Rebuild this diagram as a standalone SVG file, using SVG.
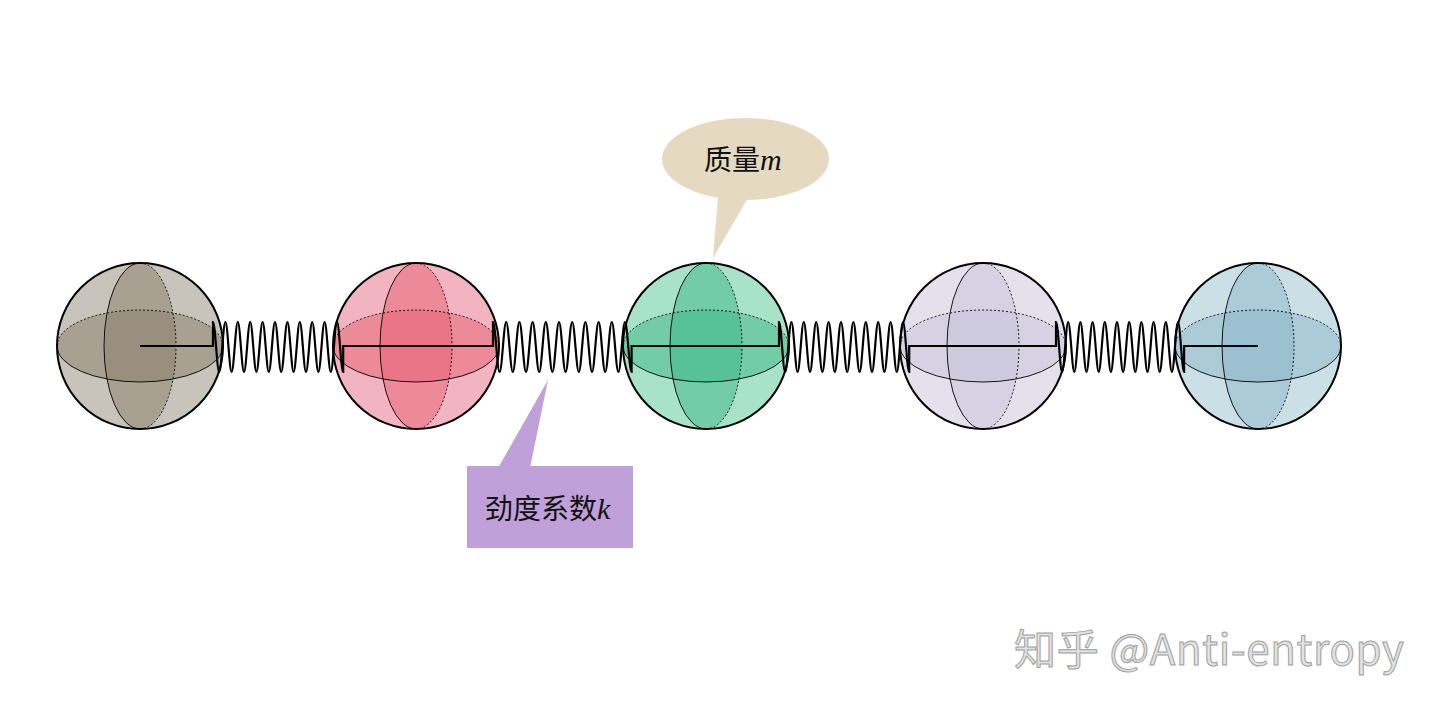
<svg xmlns="http://www.w3.org/2000/svg" width="1440" height="712" viewBox="0 0 1440 712">
<style>
.out{stroke:#000;stroke-width:2}
.sol{fill:none;stroke:#000;stroke-width:0.9}
.dot{fill:none;stroke:#000;stroke-width:0.9;stroke-dasharray:2 2}
.ov{stroke:none;fill-opacity:0.5}
.lbl{font-family:"Noto Sans CJK SC",sans-serif;font-size:28px;fill:#111}
.mi{font-family:"Liberation Serif",serif;font-style:italic;font-size:30px}
</style>
<defs>
<g id="sph">
<path class="sol" d="M0,-83 A36,83 0 0 0 0,83"/>
<path class="dot" d="M0,-83 A36,83 0 0 1 0,83"/>
<path class="dot" d="M-83,0 A83,36 0 0 1 83,0"/>
<path class="sol" d="M-83,0 A83,36 0 0 0 83,0"/>
</g>
</defs>
<rect width="1440" height="712" fill="#fff"/>
<g id="m1" transform="translate(140,346)">
<circle r="83" fill="#c9c4bb"/><ellipse rx="36" ry="83" class="ov" fill="#877d69"/><ellipse rx="83" ry="36" class="ov" fill="#877d69"/>
<use href="#sph"/><circle r="83" fill="none" class="out"/></g>
<g id="m2" transform="translate(416,346)">
<circle r="83" fill="#f2b4c1"/><ellipse rx="36" ry="83" class="ov" fill="#e66073"/><ellipse rx="83" ry="36" class="ov" fill="#e66073"/>
<use href="#sph"/><circle r="83" fill="none" class="out"/></g>
<g id="m3" transform="translate(706,346)">
<circle r="83" fill="#a8e2c9"/><ellipse rx="36" ry="83" class="ov" fill="#3cb687"/><ellipse rx="83" ry="36" class="ov" fill="#3cb687"/>
<use href="#sph"/><circle r="83" fill="none" class="out"/></g>
<g id="m4" transform="translate(983,346)">
<circle r="83" fill="#e4e1ed"/><ellipse rx="36" ry="83" class="ov" fill="#c8c3d9"/><ellipse rx="83" ry="36" class="ov" fill="#c8c3d9"/>
<use href="#sph"/><circle r="83" fill="none" class="out"/></g>
<g id="m5" transform="translate(1258,346)">
<circle r="83" fill="#cadfe6"/><ellipse rx="36" ry="83" class="ov" fill="#8cb7ca"/><ellipse rx="83" ry="36" class="ov" fill="#8cb7ca"/>
<use href="#sph"/><circle r="83" fill="none" class="out"/></g>
<g id="connectors" fill="none" stroke="#000" stroke-width="2.2">
<path d="M140,346 H213 V322 c2.2,0 4,50 6.2,50 s4,-50 6.2,-50 s4,50 6.2,50 s4,-50 6.2,-50 s4,50 6.2,50 s4,-50 6.2,-50 s4,50 6.2,50 s4,-50 6.2,-50 s4,50 6.2,50 s4,-50 6.2,-50 s4,50 6.2,50 s4,-50 6.2,-50 s4,50 6.2,50 s4,-50 6.2,-50 s4,50 6.2,50 s4,-50 6.2,-50 s4,50 6.2,50 s4,-50 6.2,-50 s4,50 6.2,50 s4,-50 6.2,-50 s4,50 6.2,50 V346 H493 V322 c2.4,0 4.2,50 6.6,50 s4.2,-50 6.6,-50 s4.2,50 6.6,50 s4.2,-50 6.6,-50 s4.2,50 6.6,50 s4.2,-50 6.6,-50 s4.2,50 6.6,50 s4.2,-50 6.6,-50 s4.2,50 6.6,50 s4.2,-50 6.6,-50 s4.2,50 6.6,50 s4.2,-50 6.6,-50 s4.2,50 6.6,50 s4.2,-50 6.6,-50 s4.2,50 6.6,50 s4.2,-50 6.6,-50 s4.2,50 6.6,50 s4.2,-50 6.6,-50 s4.2,50 6.6,50 s4.2,-50 6.6,-50 s4.2,50 6.6,50 V346 H779 V322 c2.2,0 4,50 6.2,50 s4,-50 6.2,-50 s4,50 6.2,50 s4,-50 6.2,-50 s4,50 6.2,50 s4,-50 6.2,-50 s4,50 6.2,50 s4,-50 6.2,-50 s4,50 6.2,50 s4,-50 6.2,-50 s4,50 6.2,50 s4,-50 6.2,-50 s4,50 6.2,50 s4,-50 6.2,-50 s4,50 6.2,50 s4,-50 6.2,-50 s4,50 6.2,50 s4,-50 6.2,-50 s4,50 6.2,50 s4,-50 6.2,-50 s4,50 6.2,50 V346 H1056 V322 c2.2,0 4,50 6.1,50 s4,-50 6.1,-50 s4,50 6.1,50 s4,-50 6.1,-50 s4,50 6.1,50 s4,-50 6.1,-50 s4,50 6.1,50 s4,-50 6.1,-50 s4,50 6.1,50 s4,-50 6.1,-50 s4,50 6.1,50 s4,-50 6.1,-50 s4,50 6.1,50 s4,-50 6.1,-50 s4,50 6.1,50 s4,-50 6.1,-50 s4,50 6.1,50 s4,-50 6.1,-50 s4,50 6.1,50 s4,-50 6.1,-50 s4,50 6.1,50 V346 H1258"/>
</g>
<g id="callout-mass">
<path d="M718,196 L713,258 L748,198 Z" fill="#e5dac1"/>
<ellipse cx="745.5" cy="159" rx="83.5" ry="41" fill="#e5dac1"/>
<text x="704" y="170" class="lbl">质量<tspan class="mi">m</tspan></text>
</g>
<g id="callout-k">
<path d="M498,468 L548,380 L530,468 Z" fill="#c0a0d8"/>
<rect x="467" y="466" width="166" height="82" fill="#c0a0d8"/>
<text x="485" y="519" class="lbl">劲度系数<tspan class="mi">k</tspan></text>
</g>
<text x="1014" y="665" font-family="'Noto Sans CJK SC','Noto Sans',sans-serif" font-size="42" textLength="390" fill="#e2e2e2" stroke="#a0a0a0" stroke-width="1">知乎 @Anti-entropy</text>
</svg>
